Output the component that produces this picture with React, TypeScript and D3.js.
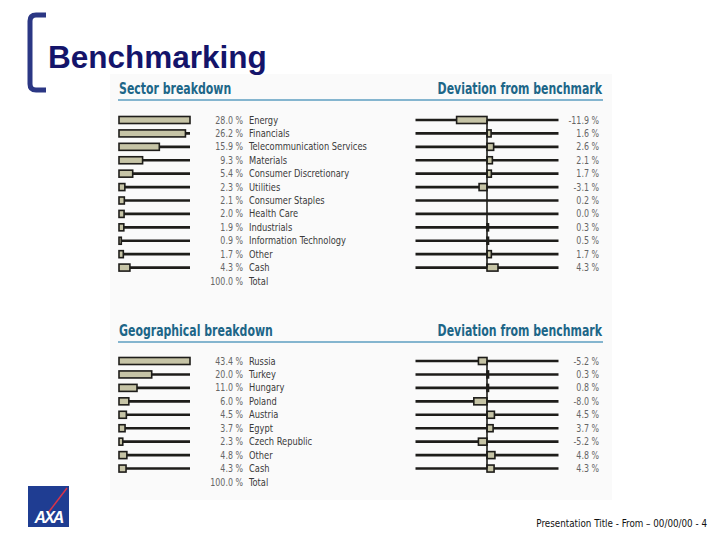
import * as d3 from "d3"
import type { ReactNode } from "react"

const sectors = ["Energy","Financials","Telecommunication Services","Materials","Consumer Discretionary","Utilities","Consumer Staples","Health Care","Industrials","Information Technology","Other","Cash"]
const sectorWeight = [28.0,26.2,15.9,9.3,5.4,2.3,2.1,2.0,1.9,0.9,1.7,4.3]
const sectorDeviation = [-11.9,1.6,2.6,2.1,1.7,-3.1,0.2,0.0,0.3,0.5,1.7,4.3]

const regions = ["Russia","Turkey","Hungary","Poland","Austria","Egypt","Czech Republic","Other","Cash"]
const regionWeight = [43.4,20.0,11.0,6.0,4.5,3.7,2.3,4.8,4.3]
const regionDeviation = [-5.2,0.3,0.8,-8.0,4.5,3.7,-5.2,4.8,4.3]

const font = "'DejaVu Sans Condensed', 'DejaVu Sans', sans-serif"
const ink = "#1e1d1a"
const fill = "#c6c4a6"
const teal = "#1d6688"

const fmt = (v: number) => v.toFixed(1) + " %"

// narrow text: squeeze horizontally round its anchor point
function NText({ x, y, sx = 0.84, anchor = "start", size = 10.5, color = "#3a3a3a", bold = false, children }:
  { x: number, y: number, sx?: number, anchor?: string, size?: number, color?: string, bold?: boolean, children: ReactNode }) {
  return (
    <text transform={`translate(${x},${y}) scale(${sx},1)`} textAnchor={anchor} fontFamily={font}
      fontWeight={bold ? "bold" : "normal"} fontSize={size} fill={color}>{children}</text>
  )
}

interface PanelProps {
  title: string
  names: string[]
  weights: number[]
  deviations: number[]
  top: number
  first: number
  last: number
}

function Panel({ title, names, weights, deviations, top, first, last }: PanelProps) {
  const rows = d3.range(names.length + 1)
  const y = d3.scalePoint<number>().domain(rows).range([first, last])
  const max = d3.max(weights) || 1
  const x = d3.scaleLinear().domain([0, max]).range([119, 190])
  const dev = d3.scaleLinear().domain([-max, max]).range([415.5, 558.5])
  const barH = 7

  return (
    <g>
      <NText x={119} y={top} sx={0.76} size={16} color={teal} bold>{title}</NText>
      <NText x={602} y={top} sx={0.76} size={16} color={teal} bold anchor="end">Deviation from benchmark</NText>
      <line x1={118} x2={603} y1={top + 6} y2={top + 6} stroke="#5c9ec0" strokeWidth={1.3} />

      {names.map((n, i) => {
        const cy = y(i)!
        const w = weights[i]
        const d = deviations[i]
        const x0 = dev(Math.min(0, d))
        const x1 = dev(Math.max(0, d))
        return (
          <g key={n}>
            <line x1={x(0)} x2={x(max)} y1={cy} y2={cy} stroke={ink} strokeWidth={2.6} />
            <rect x={x(0)} y={cy - barH / 2} width={Math.max(x(w) - x(0), 1.5)} height={barH}
              fill={fill} stroke={ink} strokeWidth={1.6} />
            <NText x={243} y={cy + 3.5} anchor="end" color="#666">{fmt(w)}</NText>
            <NText x={249} y={cy + 3.5} size={11}>{n}</NText>

            <line x1={dev(-max)} x2={dev(max)} y1={cy} y2={cy} stroke={ink} strokeWidth={2.6} />
            {Math.abs(d) > 0.25 && (
              <rect x={x0} y={cy - barH / 2} width={Math.max(x1 - x0, 1.5)} height={barH}
                fill={fill} stroke={ink} strokeWidth={1.6} />
            )}
            <NText x={599} y={cy + 3.5} anchor="end" color="#666">{fmt(d)}</NText>
          </g>
        )
      })}
      <line x1={dev(0)} x2={dev(0)} y1={y(0)!} y2={y(names.length - 1)!} stroke={ink} strokeWidth={1.6} />

      <NText x={243} y={y(names.length)! + 3.5} anchor="end" color="#666">{fmt(d3.sum(weights))}</NText>
      <NText x={249} y={y(names.length)! + 3.5} size={11}>Total</NText>
    </g>
  )
}

export default function App() {
  return (
    <svg width={720} height={540} style={{ position: "absolute", left: 0, top: 0, background: "#fff" }}>
      <rect x={110} y={74} width={502} height={426} fill="#fafafa" />

      <path d="M46,15 H36 Q30,15 30,21 V84 Q30,90 36,90 H46" fill="none" stroke="#2b3784" strokeWidth={5} />
      <text x={48} y={68} fontFamily="'Liberation Sans', Arial, sans-serif" fontWeight="bold" fontSize={31.5} fill="#14146a">Benchmarking</text>

      <Panel title="Sector breakdown" names={sectors} weights={sectorWeight} deviations={sectorDeviation}
        top={94} first={120} last={281} />
      <Panel title="Geographical breakdown" names={regions} weights={regionWeight} deviations={regionDeviation}
        top={336} first={361} last={482} />

      <rect x={28} y={486} width={41} height={41} fill="#1f3d92" />
      <line x1={48} x2={67} y1={513} y2={488} stroke="#d8344a" strokeWidth={1.5} />
      <text x={48.5} y={523} textAnchor="middle" fontFamily="'Liberation Sans', Arial, sans-serif" fontWeight="bold"
        fontStyle="italic" fontSize={16} fill="#fff" letterSpacing={-2}>AXA</text>

      <NText x={707} y={527} anchor="end" sx={0.93} size={10.5} color="#111">Presentation Title - From – 00/00/00 - 4</NText>
    </svg>
  )
}
